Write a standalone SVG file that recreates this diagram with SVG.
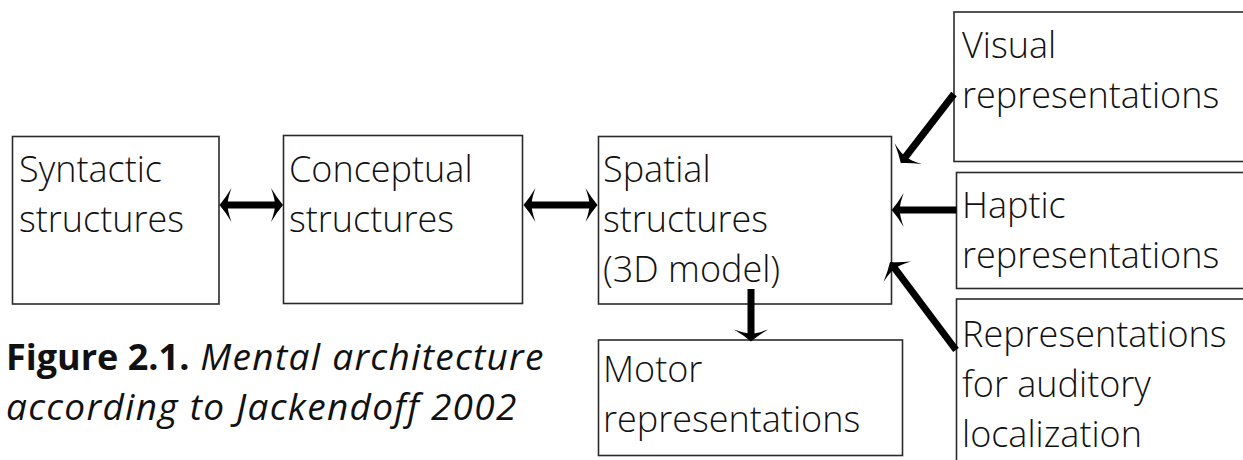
<svg xmlns="http://www.w3.org/2000/svg" width="1243" height="460" viewBox="0 0 1243 460">
  <style>
    .box { fill: #ffffff; stroke: #2a2a2a; stroke-width: 1.6; }
    .lbl { font-family: "Open Sans", Lato, "Liberation Sans", sans-serif; font-weight: 300; font-size: 36px; fill: #111111; font-variant-ligatures: none; }
    .link { stroke: #000000; stroke-width: 7; fill: none; }
    .cap { font-family: "Open Sans", Lato, "Liberation Sans", sans-serif; font-size: 36px; fill: #111111; }
    .capb { font-weight: 700; }
    .capi { font-style: italic; font-weight: 400; font-size: 37px; letter-spacing: 1.3px; }
  </style>
  <defs>
    <!-- swept-back arrowhead; shaft ends at its notch -->
    <marker id="head" viewBox="-13 -18 14 36" refX="-7" refY="0" markerWidth="14" markerHeight="36" markerUnits="userSpaceOnUse" orient="auto-start-reverse">
      <path d="M0,0 Q-6,-7 -12,-17 Q-8,-6 -8,0 Q-8,6 -12,17 Q-6,7 0,0 Z" fill="#000000"/>
    </marker>
  </defs>

  <rect width="1243" height="460" fill="#ffffff"/>

  <g id="syntactic">
    <rect class="box" x="12.5" y="136.5" width="206.5" height="167.5"/>
    <text class="lbl" x="19" y="182">Syntactic</text>
    <text class="lbl" x="19" y="232">structures</text>
  </g>

  <g id="conceptual">
    <rect class="box" x="283.5" y="135.5" width="239" height="168"/>
    <text class="lbl" x="289" y="182">Conceptual</text>
    <text class="lbl" x="289" y="232">structures</text>
  </g>

  <g id="spatial">
    <rect class="box" x="598.5" y="136.5" width="293" height="167.5"/>
    <text class="lbl" x="603" y="182">Spatial</text>
    <text class="lbl" x="603" y="232">structures</text>
    <text class="lbl" x="603" y="282">(3D model)</text>
  </g>

  <g id="motor">
    <rect class="box" x="598.5" y="340" width="304" height="115.5"/>
    <text class="lbl" x="603" y="382">Motor</text>
    <text class="lbl" x="603" y="432">representations</text>
  </g>

  <g id="visual">
    <rect class="box" x="954" y="12" width="300" height="149.5"/>
    <text class="lbl" x="962" y="58">Visual</text>
    <text class="lbl" x="962" y="108">representations</text>
  </g>

  <g id="haptic">
    <rect class="box" x="956.5" y="172.5" width="300" height="116"/>
    <text class="lbl" x="962" y="218">Haptic</text>
    <text class="lbl" x="962" y="268">representations</text>
  </g>

  <g id="auditory">
    <rect class="box" x="956.5" y="299" width="300" height="180"/>
    <text class="lbl" x="962" y="347">Representations</text>
    <text class="lbl" x="962" y="397">for auditory</text>
    <text class="lbl" x="962" y="447">localization</text>
  </g>

  <g id="connectors">
    <line class="link" x1="226.5" y1="205" x2="276" y2="205" marker-start="url(#head)" marker-end="url(#head)"/>
    <line class="link" x1="530.5" y1="205" x2="590.5" y2="205" marker-start="url(#head)" marker-end="url(#head)"/>
    <line class="link" x1="954" y1="94" x2="905" y2="157.5" marker-end="url(#head)"/>
    <line class="link" x1="956.5" y1="210" x2="898.7" y2="210" marker-end="url(#head)"/>
    <line class="link" x1="956" y1="350" x2="894.2" y2="267.6" marker-end="url(#head)"/>
    <line class="link" x1="751" y1="289" x2="751" y2="334.5" marker-end="url(#head)"/>
  </g>

  <g id="caption">
    <text class="cap" x="6" y="370"><tspan class="capb">Figure 2.1.</tspan><tspan class="capi"> Mental architecture</tspan></text>
    <text class="cap capi" x="6" y="420">according to Jackendoff 2002</text>
  </g>
</svg>
